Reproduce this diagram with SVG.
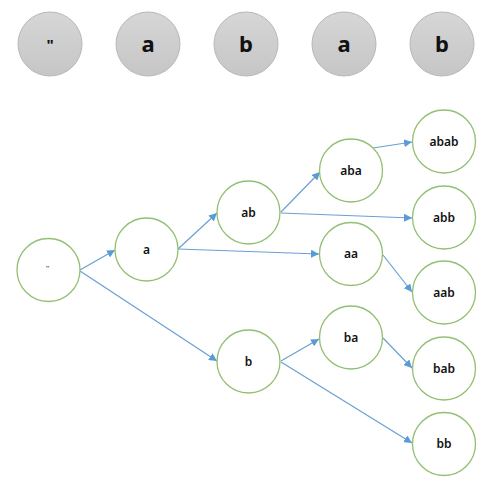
<svg xmlns="http://www.w3.org/2000/svg" width="500" height="488" viewBox="0 0 500 488">
<style>
.top{fill:url(#g);stroke:#b8b8b8;stroke-width:1}
.tt{font-family:"Noto Sans","DejaVu Sans",sans-serif;font-weight:bold;font-size:22px;fill:#111;text-anchor:middle}
.n{fill:#fff;stroke:#93bf72;stroke-width:1.3}
.nt{font-family:"Noto Sans","DejaVu Sans",sans-serif;font-weight:600;font-size:12px;fill:#111;text-anchor:middle}
.e{stroke:#6a9fd3;stroke-width:1.2;fill:none;marker-end:url(#arr)}
</style>
<defs>
<linearGradient id="g" x1="0" y1="0" x2="0" y2="1">
<stop offset="0" stop-color="#d6d6d6"/><stop offset="1" stop-color="#c6c6c6"/>
</linearGradient>
<marker id="arr" viewBox="0 0 10 10" refX="10" refY="5" markerWidth="8" markerHeight="8" markerUnits="userSpaceOnUse" orient="auto">
<path d="M0,0 L10,5 L0,10 z" fill="#5b9bd5"/>
</marker>
</defs>
<g id="top">
<g id="t0"><circle class="top" cx="50" cy="44" r="32"/><text class="tt" x="50" y="50" style="font-size:15px">"</text></g>
<g id="t1"><circle class="top" cx="148" cy="44" r="32"/><text class="tt" x="148" y="52">a</text></g>
<g id="t2"><circle class="top" cx="246" cy="44" r="32"/><text class="tt" x="246" y="52">b</text></g>
<g id="t3"><circle class="top" cx="344" cy="44" r="32"/><text class="tt" x="344" y="52">a</text></g>
<g id="t4"><circle class="top" cx="442" cy="44" r="32"/><text class="tt" x="442" y="52">b</text></g>
</g>
<g id="connectors">
<line class="e" x1="80" y1="270" x2="115" y2="250"/>
<line class="e" x1="80" y1="271" x2="217" y2="361"/>
<line class="e" x1="178" y1="249" x2="217" y2="213"/>
<line class="e" x1="178" y1="249" x2="319" y2="254"/>
<line class="e" x1="281" y1="212" x2="320" y2="172"/>
<line class="e" x1="281" y1="213" x2="412" y2="218"/>
<line class="e" x1="373" y1="148" x2="412" y2="142"/>
<line class="e" x1="383" y1="255" x2="412" y2="292"/>
<line class="e" x1="281" y1="361" x2="319" y2="339"/>
<line class="e" x1="281" y1="362" x2="412" y2="443"/>
<line class="e" x1="383" y1="338" x2="412" y2="368"/>
</g>
<g id="root"><circle class="n" cx="48.5" cy="270" r="31.5"/><text class="nt" x="47.5" y="270" style="font-size:6px">''</text></g>
<g id="a"><circle class="n" cx="146.5" cy="249.5" r="31.5"/><text class="nt" x="146.5" y="253.5">a</text></g>
<g id="ab"><circle class="n" cx="248.5" cy="212.5" r="31.5"/><text class="nt" x="248.5" y="216.5">ab</text></g>
<g id="b"><circle class="n" cx="248.5" cy="361.5" r="31.5"/><text class="nt" x="248.5" y="365.5">b</text></g>
<g id="aba"><circle class="n" cx="351" cy="170.5" r="31.5"/><text class="nt" x="351" y="174.5">aba</text></g>
<g id="aa"><circle class="n" cx="351" cy="254" r="31.5"/><text class="nt" x="351" y="258">aa</text></g>
<g id="ba"><circle class="n" cx="351" cy="337.5" r="31.5"/><text class="nt" x="351" y="341.5">ba</text></g>
<g id="abab"><circle class="n" cx="444" cy="141.5" r="31.5"/><text class="nt" x="444" y="145.5">abab</text></g>
<g id="abb"><circle class="n" cx="444" cy="217.5" r="31.5"/><text class="nt" x="444" y="221.5">abb</text></g>
<g id="aab"><circle class="n" cx="444" cy="292.5" r="31.5"/><text class="nt" x="444" y="296.5">aab</text></g>
<g id="bab"><circle class="n" cx="444" cy="368.5" r="31.5"/><text class="nt" x="444" y="372.5">bab</text></g>
<g id="bb"><circle class="n" cx="444" cy="444" r="31.5"/><text class="nt" x="444" y="448">bb</text></g>
</svg>
